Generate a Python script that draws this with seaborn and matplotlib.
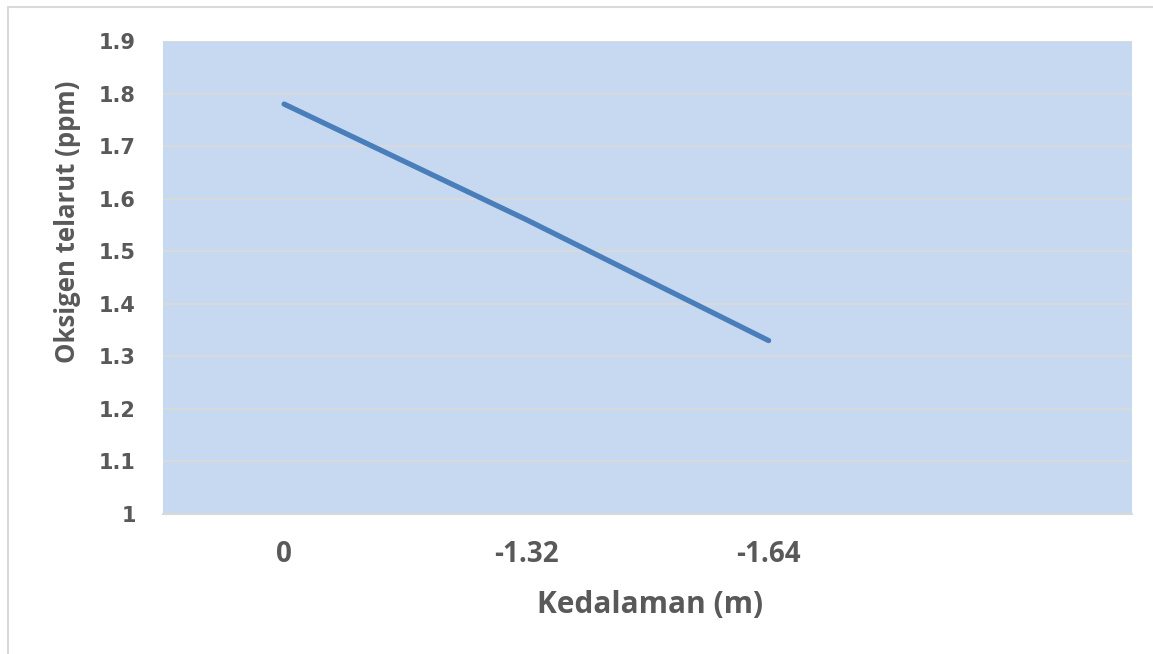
import pandas as pd
import seaborn as sns
import matplotlib.pyplot as plt
from matplotlib.patches import Rectangle

# data
depth_labels = ["0", "-1.32", "-1.64", ""]
oxygen = [1.78, 1.56, 1.33]
y_ticks = [1.0, 1.1, 1.2, 1.3, 1.4, 1.5, 1.6, 1.7, 1.8, 1.9]
y_tick_labels = ["1", "1.1", "1.2", "1.3", "1.4", "1.5", "1.6", "1.7", "1.8", "1.9"]

GREY = "#595959"


def main():
    df = pd.DataFrame({"pos": range(len(oxygen)), "oksigen": oxygen})

    sns.set_theme(style="white")
    plt.rcParams["font.family"] = ["Open Sans", "DejaVu Sans"]

    fig = plt.figure(figsize=(11.53, 6.54), dpi=100)
    ax = fig.add_axes([163 / 1153, 140 / 654, 969 / 1153, 473 / 654])

    # chart border like the excel frame
    fig.patches.append(Rectangle((8 / 1153, -0.05), 1.2, 0.05 + 647 / 654,
                                 transform=fig.transFigure, fill=False,
                                 edgecolor="#D9D9D9", linewidth=1.5))

    ax.set_facecolor("#C6D9F0")
    sns.lineplot(data=df, x="pos", y="oksigen", ax=ax, color="#4A7EBB",
                 linewidth=3.8, solid_capstyle="round")

    ax.set_xlim(-0.5, len(depth_labels) - 0.5)
    ax.set_ylim(1.0, 1.9)
    ax.set_yticks(y_ticks)
    ax.set_yticklabels(y_tick_labels, family="DejaVu Sans", fontweight="bold")
    ax.set_xticks(range(len(depth_labels)))
    ax.set_xticklabels(depth_labels, fontweight="bold")

    ax.grid(axis="y", color="#D9D9D9", linewidth=1.3)
    ax.set_axisbelow(True)
    for s in ["top", "right", "left"]:
        ax.spines[s].set_visible(False)
    ax.spines["bottom"].set_color("#D9D9D9")
    ax.spines["bottom"].set_linewidth(1.5)

    ax.tick_params(axis="y", length=0, pad=19.5, labelsize=15, labelcolor=GREY)
    ax.tick_params(axis="x", length=0, pad=19, labelsize=20, labelcolor=GREY)

    ax.set_ylabel("Oksigen telarut (ppm)", fontsize=18.5, fontweight="bold", color=GREY)
    ax.yaxis.set_label_coords(-0.085, 0.617)
    ax.set_xlabel("Kedalaman (m)", fontsize=21.5, fontweight="bold", color=GREY)
    ax.xaxis.set_label_coords(0.503, -0.16)

    fig.savefig("out.png", dpi=100)


if __name__ == '__main__':
    main()
